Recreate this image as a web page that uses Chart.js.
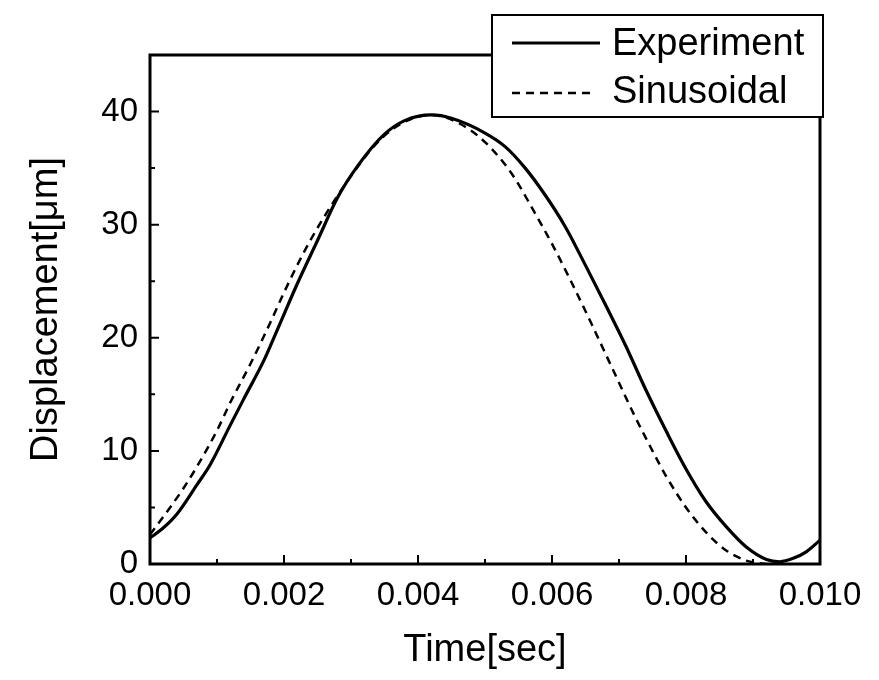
<!DOCTYPE html>
<html>
<head>
<meta charset="utf-8">
<script src="https://cdn.jsdelivr.net/npm/chart.js@4.4.1/dist/chart.umd.min.js"></script>
<style>
  html, body { margin: 0; padding: 0; background: #fff; }
  canvas { display: block; }
</style>
</head>
<body>
<canvas id="chart" width="879" height="680"></canvas>
<script>
// values
const expTime = [0, 0.0002, 0.0004, 0.0007, 0.0009, 0.0012, 0.0014, 0.0017, 0.0019, 0.0022,
  0.0025, 0.0028, 0.0031, 0.0035, 0.0038, 0.0042, 0.0045, 0.0050, 0.0053, 0.0056,
  0.0059, 0.0062, 0.0065, 0.0068, 0.0071, 0.0074, 0.0077, 0.0080, 0.0083, 0.0086,
  0.0089, 0.0092, 0.0094, 0.0096, 0.0098, 0.0100];
const expDisp = [2.3, 3.2, 4.4, 7.0, 8.8, 12.3, 14.6, 18.0, 20.7, 24.8,
  28.6, 32.4, 35.2, 38.0, 39.2, 39.7, 39.4, 38.1, 36.9, 35.0,
  32.6, 29.8, 26.4, 22.9, 19.3, 15.4, 11.8, 8.4, 5.5, 3.3,
  1.5, 0.4, 0.2, 0.5, 1.1, 2.1];

const sinTime = [0, 0.0003, 0.0005, 0.0007, 0.0010, 0.0012, 0.0015, 0.0018, 0.0020, 0.0023,
  0.0026, 0.0030, 0.0034, 0.0038, 0.0042, 0.0046, 0.0050, 0.0054, 0.0057, 0.0060,
  0.0063, 0.0066, 0.0069, 0.0072, 0.0075, 0.0077, 0.0080, 0.0083, 0.0086, 0.0089,
  0.0092];
const sinDisp = [2.6, 5.0, 6.7, 8.6, 11.8, 14.3, 17.7, 21.4, 24.0, 27.6,
  30.7, 34.3, 37.3, 39.1, 39.7, 39.0, 37.3, 34.5, 31.5, 28.3,
  24.8, 21.1, 17.3, 13.5, 10.0, 7.8, 5.0, 2.8, 1.2, 0.3,
  0.0];

const xTicks = [0, 0.002, 0.004, 0.006, 0.008, 0.010];
const yTicks = [0, 10, 20, 30, 40];
const xMinor = [0.001, 0.003, 0.005, 0.007, 0.009];
const yMinor = [5, 15, 25, 35];

const seriesNames = ["Experiment", "Sinusoidal"];

const FONT = "'Liberation Sans', Arial, sans-serif";

function toPoints(xs, ys) {
  return xs.map((x, i) => ({ x: x, y: ys[i] }));
}

const framePlugin = {
  id: "frame",
  afterDatasetsDraw(chart) {
    const { ctx, chartArea: a, scales } = chart;
    ctx.save();
    ctx.strokeStyle = "#000";
    ctx.lineWidth = 3;
    ctx.strokeRect(a.left, a.top, a.right - a.left, a.bottom - a.top);

    // inward ticks
    ctx.lineWidth = 2;
    ctx.beginPath();
    xTicks.forEach(v => {
      const px = scales.x.getPixelForValue(v);
      ctx.moveTo(px, a.bottom);
      ctx.lineTo(px, a.bottom - 9);
    });
    xMinor.forEach(v => {
      const px = scales.x.getPixelForValue(v);
      ctx.moveTo(px, a.bottom);
      ctx.lineTo(px, a.bottom - 5);
    });
    yTicks.forEach(v => {
      const py = scales.y.getPixelForValue(v);
      ctx.moveTo(a.left, py);
      ctx.lineTo(a.left + 9, py);
    });
    yMinor.forEach(v => {
      const py = scales.y.getPixelForValue(v);
      ctx.moveTo(a.left, py);
      ctx.lineTo(a.left + 5, py);
    });
    ctx.stroke();

    // legend box
    ctx.fillStyle = "#fff";
    ctx.fillRect(492, 15, 331, 102);
    ctx.lineWidth = 2;
    ctx.strokeRect(492, 15, 331, 102);

    ctx.lineWidth = 3;
    ctx.beginPath();
    ctx.moveTo(512, 43);
    ctx.lineTo(600, 43);
    ctx.stroke();

    ctx.lineWidth = 2.5;
    ctx.setLineDash([8, 6]);
    ctx.beginPath();
    ctx.moveTo(512, 93);
    ctx.lineTo(592, 93);
    ctx.stroke();
    ctx.setLineDash([]);

    ctx.fillStyle = "#000";
    ctx.font = "38px " + FONT;
    ctx.textBaseline = "middle";
    ctx.textAlign = "left";
    ctx.fillText(seriesNames[0], 612, 45);
    ctx.fillText(seriesNames[1], 612, 93);
    ctx.restore();
  }
};

new Chart(document.getElementById("chart"), {
  type: "line",
  data: {
    datasets: [
      {
        label: seriesNames[0],
        data: toPoints(expTime, expDisp),
        borderColor: "#000",
        borderWidth: 3.2,
        pointRadius: 0,
        fill: false,
        cubicInterpolationMode: "monotone"
      },
      {
        label: seriesNames[1],
        data: toPoints(sinTime, sinDisp),
        borderColor: "#000",
        borderWidth: 2.5,
        borderDash: [8, 6],
        pointRadius: 0,
        fill: false,
        cubicInterpolationMode: "monotone"
      }
    ]
  },
  options: {
    responsive: false,
    animation: false,
    layout: {
      padding: { top: 55, right: 59, left: 0, bottom: 0 }
    },
    plugins: {
      legend: { display: false },
      tooltip: { enabled: false }
    },
    scales: {
      x: {
        type: "linear",
        min: 0,
        max: 0.010,
        afterBuildTicks: scale => { scale.ticks = xTicks.map(v => ({ value: v })); },
        afterFit: scale => { scale.height = 116; },
        grid: { display: false, drawTicks: false },
        border: { display: false },
        ticks: {
          color: "#000",
          padding: 12,
          font: { family: FONT, size: 33 },
          callback: v => v.toFixed(3)
        },
        title: {
          display: true,
          text: "Time[sec]",
          color: "#000",
          font: { family: FONT, size: 38 },
          padding: { top: 0, bottom: 7 }
        }
      },
      y: {
        min: 0,
        max: 45,
        afterBuildTicks: scale => { scale.ticks = yTicks.map(v => ({ value: v })); },
        afterFit: scale => { scale.width = 150; },
        grid: { display: false, drawTicks: false },
        border: { display: false },
        ticks: {
          color: "#000",
          padding: 12,
          font: { family: FONT, size: 33 }
        },
        title: {
          display: true,
          text: "Displacement[μm]",
          color: "#000",
          font: { family: FONT, size: 38 },
          padding: { top: 24, bottom: 0 }
        }
      }
    }
  },
  plugins: [framePlugin]
});
</script>
</body>
</html>
